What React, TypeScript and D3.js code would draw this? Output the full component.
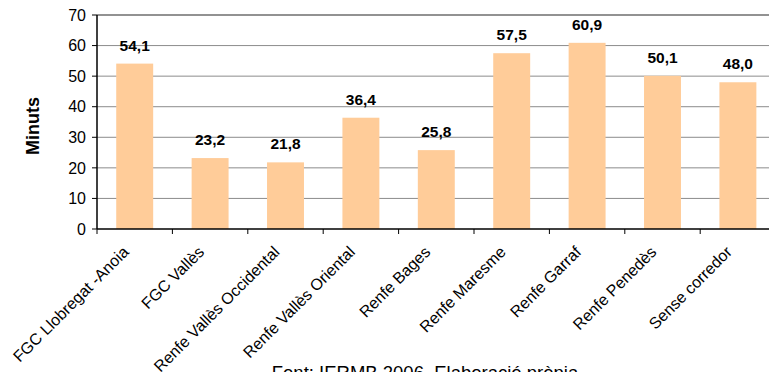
import React, { useEffect, useRef } from "react";
import * as d3 from "d3";

const categories = [
  "FGC Llobregat -Anoia",
  "FGC Vallès",
  "Renfe Vallès Occidental",
  "Renfe Vallès Oriental",
  "Renfe Bages",
  "Renfe Maresme",
  "Renfe Garraf",
  "Renfe Penedès",
  "Sense corredor",
];
const minutes = [54.1, 23.2, 21.8, 36.4, 25.8, 57.5, 60.9, 50.1, 48.0];
const yTicks = [0, 10, 20, 30, 40, 50, 60, 70];
const yLabel = "Minuts";
const source = "Font: IERMB 2006. Elaboració pròpia";

const W = 769;
const H = 372;
const FONT = "Arial, 'Liberation Sans', sans-serif";

export default function App() {
  const ref = useRef<SVGSVGElement>(null);

  useEffect(() => {
    const svg = d3.select(ref.current!);
    svg.selectAll("*").remove();

    const margin = { top: 15, left: 97, bottom: 229 };
    const bandW = 75.4;
    const right = margin.left + bandW * categories.length;

    const x = d3
      .scaleBand<string>()
      .domain(categories)
      .range([margin.left, right])
      .paddingInner(0.51)
      .paddingOuter(0.255);
    const xb = d3.scaleBand<string>().domain(categories).range([margin.left, right]);

    const y = d3.scaleLinear().domain([0, 70]).range([margin.bottom, margin.top]);

    // gridlines
    svg
      .append("g")
      .selectAll("line")
      .data(yTicks.slice(1, -1))
      .join("line")
      .attr("x1", margin.left)
      .attr("x2", right)
      .attr("y1", (d) => y(d))
      .attr("y2", (d) => y(d))
      .attr("stroke", "#8c8c8c")
      .attr("stroke-width", 1);

    // top border
    svg
      .append("line")
      .attr("x1", margin.left)
      .attr("x2", right)
      .attr("y1", y(70))
      .attr("y2", y(70))
      .attr("stroke", "#6e6e6e")
      .attr("stroke-width", 1.5);

    // bars
    svg
      .append("g")
      .selectAll("rect")
      .data(minutes)
      .join("rect")
      .attr("x", (_, i) => x(categories[i])!)
      .attr("width", x.bandwidth())
      .attr("y", (d) => y(d))
      .attr("height", (d) => y(0) - y(d))
      .attr("fill", "#ffcc99");

    // value labels
    svg
      .append("g")
      .selectAll("text")
      .data(minutes)
      .join("text")
      .attr("x", (_, i) => x(categories[i])! + x.bandwidth() / 2)
      .attr("y", (d) => y(d) - 13)
      .attr("text-anchor", "middle")
      .attr("font-family", FONT)
      .attr("font-size", 15.5)
      .attr("font-weight", "bold")
      .attr("fill", "#000")
      .text((d) => d.toFixed(1).replace(".", ","));

    // y axis
    svg
      .append("line")
      .attr("x1", margin.left)
      .attr("x2", margin.left)
      .attr("y1", y(70))
      .attr("y2", y(0))
      .attr("stroke", "#000")
      .attr("stroke-width", 1.5);
    const yg = svg.append("g");
    yg.selectAll("line")
      .data(yTicks)
      .join("line")
      .attr("x1", margin.left - 5)
      .attr("x2", margin.left)
      .attr("y1", (d) => y(d))
      .attr("y2", (d) => y(d))
      .attr("stroke", "#000");
    yg.selectAll("text")
      .data(yTicks)
      .join("text")
      .attr("x", margin.left - 11)
      .attr("y", (d) => y(d))
      .attr("dy", "0.36em")
      .attr("text-anchor", "end")
      .attr("font-family", FONT)
      .attr("font-size", 16)
      .attr("fill", "#000")
      .text((d) => d);

    // x axis
    svg
      .append("line")
      .attr("x1", margin.left)
      .attr("x2", right)
      .attr("y1", y(0))
      .attr("y2", y(0))
      .attr("stroke", "#000")
      .attr("stroke-width", 1.5);
    const xg = svg.append("g");
    xg.selectAll("line")
      .data(categories.concat(["_end"]))
      .join("line")
      .attr("x1", (_, i) => margin.left + i * xb.bandwidth())
      .attr("x2", (_, i) => margin.left + i * xb.bandwidth())
      .attr("y1", y(0))
      .attr("y2", y(0) + 5)
      .attr("stroke", "#000");
    xg.selectAll("text")
      .data(categories)
      .join("text")
      .attr(
        "transform",
        (d) => `translate(${xb(d)! + xb.bandwidth() / 2 - 5},${y(0) + 24}) rotate(-45)`
      )
      .attr("text-anchor", "end")
      .attr("font-family", FONT)
      .attr("font-size", 16)
      .attr("fill", "#000")
      .text((d) => d);

    // y label
    svg
      .append("text")
      .attr("transform", `translate(39,${(y(0) + y(70)) / 2 + 4}) rotate(-90)`)
      .attr("text-anchor", "middle")
      .attr("font-family", FONT)
      .attr("font-size", 18)
      .attr("font-weight", "bold")
      .attr("fill", "#000")
      .text(yLabel);

    // source
    svg
      .append("text")
      .attr("x", 425)
      .attr("y", 379)
      .attr("text-anchor", "middle")
      .attr("font-family", FONT)
      .attr("font-size", 18.5)
      .attr("fill", "#000")
      .text(source);
  }, []);

  return (
    <svg
      ref={ref}
      width={W}
      height={H}
      style={{ position: "fixed", left: 0, top: 0, background: "#fff" }}
    />
  );
}
